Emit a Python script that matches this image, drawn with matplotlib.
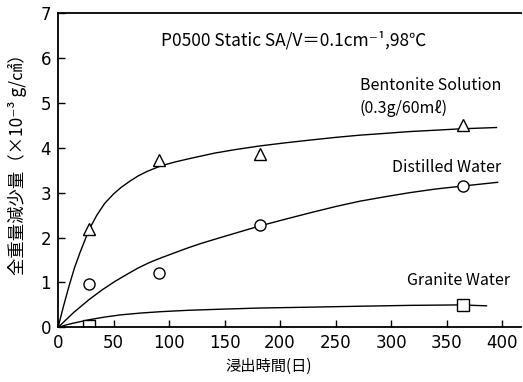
import matplotlib
matplotlib.use("Agg")
import matplotlib.pyplot as plt

# measured points (days, weight loss x1e-3 g/cm2)
bent_days = [28, 91, 182, 365]
bent_loss = [2.2, 3.72, 3.87, 4.5]
dist_days = [28, 91, 182, 365]
dist_loss = [0.96, 1.22, 2.28, 3.14]
gran_days = [28, 365]
gran_loss = [0.03, 0.5]

# fitted curves
bent_fit_t = [0, 5, 10, 15, 20, 28, 35, 42, 50, 57, 65, 72, 80, 93, 105, 117, 141, 160,
              182, 205, 227, 250, 272, 295, 317, 340, 362, 395]
bent_fit_v = [0, 0.48, 0.93, 1.34, 1.68, 2.18, 2.5, 2.76, 2.97, 3.12, 3.26, 3.37, 3.47, 3.6,
              3.68, 3.75, 3.88, 3.96, 4.04, 4.11, 4.17, 4.23, 4.28, 4.32, 4.36, 4.39, 4.42, 4.45]
dist_fit_t = [0, 14, 28, 40, 51, 62, 72, 82, 93, 105, 117, 129, 141, 160, 182, 205, 227,
              250, 272, 295, 317, 340, 362, 396]
dist_fit_v = [0, 0.33, 0.62, 0.84, 1.02, 1.18, 1.32, 1.44, 1.55, 1.66, 1.77, 1.87, 1.96,
              2.1, 2.26, 2.41, 2.55, 2.69, 2.81, 2.91, 3.0, 3.08, 3.14, 3.23]
gran_fit_t = [0, 8, 15, 28, 42, 57, 75, 93, 117, 141, 180, 227, 270, 317, 362, 386]
gran_fit_v = [0, 0.06, 0.1, 0.17, 0.23, 0.28, 0.32, 0.35, 0.38, 0.4, 0.43, 0.45, 0.47,
              0.49, 0.5, 0.48]

xticks = [0, 50, 100, 150, 200, 250, 300, 350, 400]
yticks = [0, 1, 2, 3, 4, 5, 6, 7]

cjk = ['Noto Sans CJK JP', 'DejaVu Sans']

fig = plt.figure(figsize=(5.23, 3.82), dpi=100)
ax = fig.add_axes([0.111, 0.143, 0.885, 0.823])

ax.plot(bent_fit_t, bent_fit_v, color='black', lw=1.0)
ax.plot(dist_fit_t, dist_fit_v, color='black', lw=1.0)
ax.plot(gran_fit_t, gran_fit_v, color='black', lw=1.0)

ax.plot(bent_days, bent_loss, ls='none', marker='^', ms=9, mfc='white', mec='black', mew=1.0)
ax.plot(dist_days, dist_loss, ls='none', marker='o', ms=8, mfc='white', mec='black', mew=1.0)
ax.plot(gran_days, gran_loss, ls='none', marker='s', ms=8, mfc='white', mec='black', mew=1.0)

ax.set_xlim(0, 417)
ax.set_ylim(0, 7)
ax.set_xticks(xticks)
ax.set_yticks(yticks)
ax.tick_params(direction='in', length=5, width=1.0, labelsize=12, pad=5)
ax.spines['right'].set_visible(False)
for s in ['left', 'bottom', 'top']:
    ax.spines[s].set_linewidth(1.3)

ax.text(212, 6.4, 'P0500 Static SA/V＝0.1cm⁻¹,98℃', ha='center', va='center',
        fontsize=12.5, family=cjk)
ax.text(272, 5.38, 'Bentonite Solution', ha='left', va='center', fontsize=11.5, family=cjk)
ax.text(272, 4.88, '(0.3g/60mℓ)', ha='left', va='center', fontsize=11.5, family=cjk)
ax.text(301, 3.55, 'Distilled Water', ha='left', va='center', fontsize=11.5, family=cjk)
ax.text(314, 1.05, 'Granite Water', ha='left', va='center', fontsize=11.5, family=cjk)

fig.text(0.034, 0.58, '全重量減少量（×10⁻³ g/㎠）', rotation=90, ha='center', va='center',
         fontsize=12.5, family=cjk)
fig.text(0.513, 0.018, '浸出時間(日)', ha='center', va='bottom', fontsize=11, family=cjk)

fig.savefig('out.png', dpi=100)
